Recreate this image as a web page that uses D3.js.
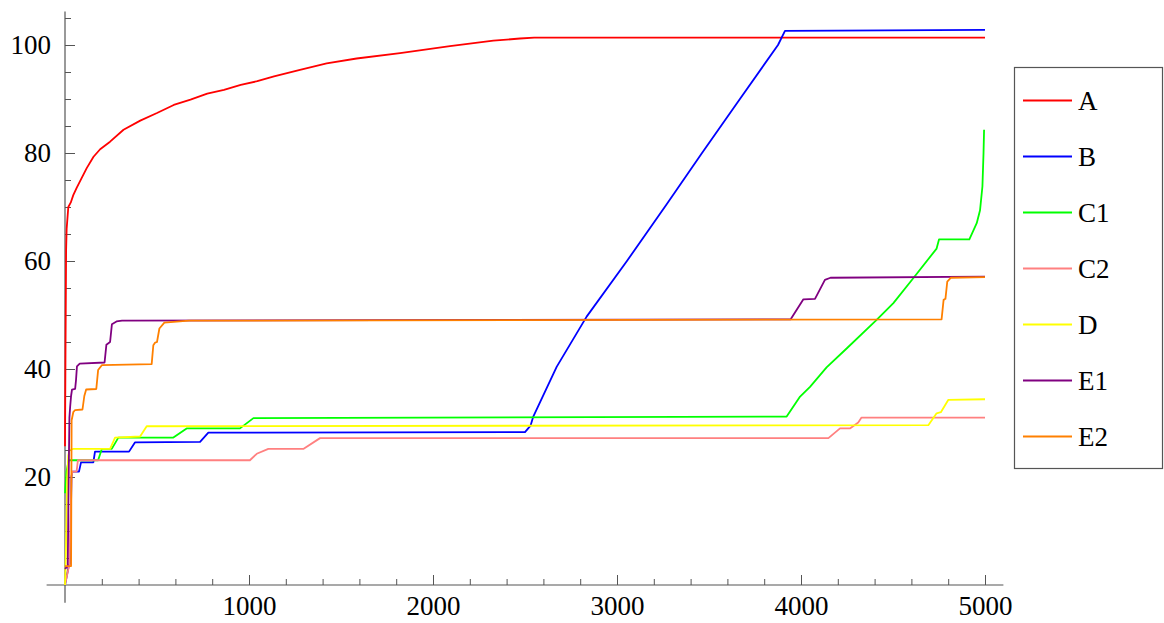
<!DOCTYPE html>
<html>
<head>
<meta charset="utf-8">
<script src="https://cdn.jsdelivr.net/npm/d3@7"></script>
<style>
  body { margin: 0; background: #fff; }
  text { font-family: "Liberation Serif", "Times New Roman", Times, serif; }
</style>
</head>
<body>
<div id="maViz"></div>
<script>
// series names + colours (legend order)
const names = ["A", "B", "C1", "C2", "D", "E1", "E2"];
const colors = ["#ff0000", "#0000ff", "#00ff00", "#ff8080", "#ffff00", "#800080", "#ff8000"];

// tick values
const xMajor = [1000, 2000, 3000, 4000, 5000];
const xMinor = d3.range(200, 5001, 200).filter(v => v % 1000 != 0);
const yMajor = [20, 40, 60, 80, 100];
const yMinor = [5, 10, 15, 25, 30, 35, 45, 50, 55, 65, 70, 75, 85, 90, 95, 105];

const serieA = [[0,25.7],[3,45],[6,62],[9,66],[18,70],[31,70.8],[45,72.2],[64,73.6],[91,75.4],[118,77.2],[155,79.3],[191,80.7],[245,82.1],[318,84.3],[409,86],[500,87.4],[591,88.9],[682,89.9],[773,91],[864,91.7],[955,92.6],[1045,93.3],[1136,94.2],[1277,95.4],[1422,96.6],[1585,97.5],[1821,98.5],[2092,99.8],[2328,100.8],[2473,101.2],[2550,101.35],[5000,101.35]];
const serieB = [[0,0],[20,3.5],[28,4],[35,20],[40,21],[76,21],[87,22.7],[154,22.7],[163,24.7],[348,24.7],[380,26.4],[734,26.5],[779,28.2],[2500,28.3],[2530,29.5],[2545,31.2],[2672,40.4],[2835,49.7],[3054,60],[3270,70.5],[3462,80],[3668,90],[3875,100],[3913,102.6],[5000,102.8]];
const serieC1 = [[0,17],[8,21],[20,23.1],[180,23.1],[200,25.2],[254,25.2],[290,27.3],[589,27.3],[661,29],[951,29],[1024,30.9],[3922,31.2],[3995,34.9],[4049,36.7],[4139,40.3],[4248,43.8],[4411,49.1],[4502,52.2],[4610,56.8],[4737,62.3],[4750,64],[4915,64],[4955,67],[4973,69.4],[4986,73.8],[4992,80],[4995,84.3]];
const serieC2 = [[0,0],[25,4],[35,20],[40,21],[63,21],[70,23.1],[1005,23.1],[1042,24.3],[1105,25.2],[1295,25.2],[1386,27.2],[4149,27.2],[4212,29],[4266,29],[4311,30.1],[4329,31],[5000,31]];
const serieD = [[0,0],[3,3],[8,12],[12,20],[18,24],[25,25],[45,25.2],[245,25.2],[272,27.3],[408,27.5],[444,29.4],[4692,29.6],[4737,31.8],[4760,32],[4801,34.3],[5000,34.4]];
const serieE1 = [[0,3],[15,3.5],[20,20],[24,31],[28,33],[33,35],[38,36.2],[55,36.3],[60,38],[65,40.5],[80,41],[215,41.2],[225,44.5],[245,45],[255,48.3],[280,48.8],[310,48.95],[3944,49.2],[4013,52.9],[4076,53],[4130,56.5],[4160,56.9],[5000,57.1]];
const serieE2 = [[0,3.5],[33,3.5],[36,30.5],[45,32],[55,32.4],[95,32.5],[105,35],[115,36.2],[170,36.3],[180,39.8],[200,40.7],[471,40.9],[480,44.4],[490,44.9],[500,45],[513,47.5],[540,48.6],[674,48.95],[4764,49.2],[4775,52.8],[4785,53],[4795,56.2],[4815,56.9],[5000,57]];

const series = [serieA, serieB, serieC1, serieC2, serieD, serieE1, serieE2];

/////////////////////////////////////////////////////////

const width = 1164, height = 623;
const axisColor = "#555";
const fontStack = "'Liberation Serif', 'Times New Roman', Times, serif";

const svg = d3.select("#maViz")
              .append("svg")
                .attr("width", width)
                .attr("height", height);

// echelles
const x = d3.scaleLinear().domain([0, 5000]).range([65, 985]);
const y = d3.scaleLinear().domain([0, 100]).range([585, 45]);

// lignes d'axes (debordent un peu comme Mathematica)
svg.append("line")
    .attr("x1", x(-100)).attr("x2", x(5100))
    .attr("y1", y(0)).attr("y2", y(0))
    .attr("stroke", axisColor).attr("stroke-width", 1.2);
svg.append("line")
    .attr("x1", x(0)).attr("x2", x(0))
    .attr("y1", y(-3.3)).attr("y2", y(106.2))
    .attr("stroke", axisColor).attr("stroke-width", 1.2);

// axe X : ticks vers l'interieur
const gx = svg.append("g").attr("transform", `translate(0,${y(0)})`);
gx.append("g")
    .call(d3.axisBottom(x).tickValues(xMinor).tickSize(-6).tickFormat(""));
gx.append("g")
    .call(d3.axisBottom(x).tickValues(xMajor).tickSize(-10).tickPadding(11).tickFormat(d3.format("d")));

// axe Y
const gy = svg.append("g").attr("transform", `translate(${x(0)},0)`);
gy.append("g")
    .call(d3.axisLeft(y).tickValues(yMinor).tickSize(-6).tickFormat(""));
gy.append("g")
    .call(d3.axisLeft(y).tickValues(yMajor).tickSize(-10).tickPadding(14).tickFormat(d3.format("d")));

svg.selectAll(".domain").remove();
svg.selectAll(".tick line").attr("stroke", axisColor).attr("stroke-width", 1);
svg.selectAll("g.tick text")
    .attr("fill", "#000")
    .attr("font-family", fontStack)
    .style("font-family", fontStack)
    .style("font-size", "27px");
gx.selectAll(".tick text").attr("dy", "0.71em");

// courbes
const line = d3.line()
               .x(d => x(d[0]))
               .y(d => y(d[1]));

svg.append("g")
  .selectAll("path")
  .data(series)
  .join("path")
    .attr("d", line)
    .attr("fill", "none")
    .attr("stroke", (d, i) => colors[i])
    .attr("stroke-width", 1.8)
    .attr("stroke-linejoin", "round");

// legende
const leg = svg.append("g");
leg.append("rect")
    .attr("x", 1014.5).attr("y", 67.5)
    .attr("width", 148).attr("height", 401)
    .attr("fill", "#fff")
    .attr("stroke", axisColor).attr("stroke-width", 1.2);

const item = leg.selectAll("g.item")
  .data(names)
  .join("g")
    .attr("class", "item")
    .attr("transform", (d, i) => `translate(0,${100.5 + i * 56})`);

item.append("line")
    .attr("x1", 1023).attr("x2", 1072)
    .attr("stroke", (d, i) => colors[i])
    .attr("stroke-width", 1.8);

item.append("text")
    .attr("x", 1078)
    .attr("dy", "0.35em")
    .style("font-family", fontStack)
    .style("font-size", "27px")
    .text(d => d);
</script>
</body>
</html>
